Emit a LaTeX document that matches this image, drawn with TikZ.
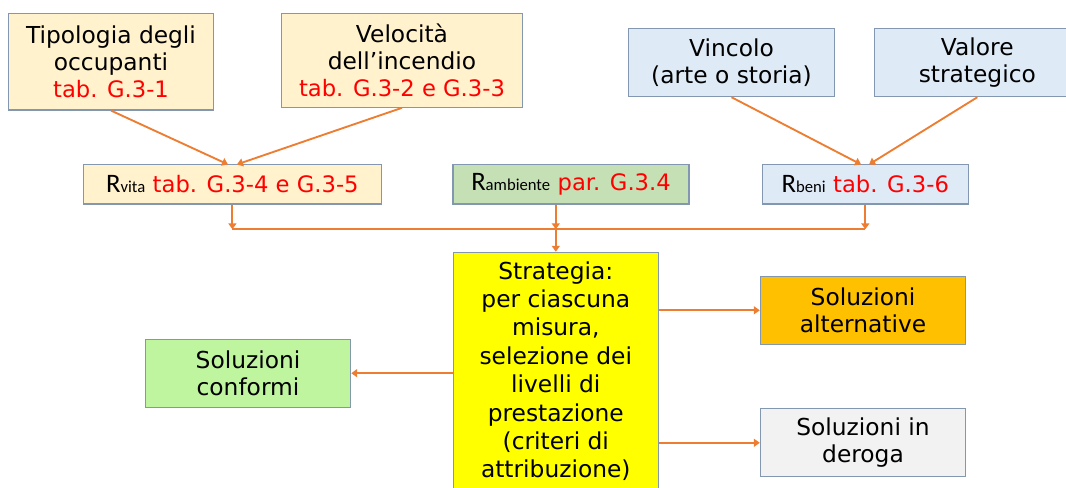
\documentclass[tikz,border=0pt]{standalone}
\usepackage{fontspec}
\setmainfont{DejaVu Sans}
\newfontfamily\calib{Carlito}
\usetikzlibrary{arrows.meta}

\definecolor{edge}{RGB}{132,151,176}
\definecolor{arrow}{RGB}{237,125,49}
\definecolor{tabred}{RGB}{255,0,0}
\definecolor{cream}{RGB}{255,242,204}
\definecolor{sage}{RGB}{197,224,180}
\definecolor{sky}{RGB}{222,235,247}
\definecolor{lime}{RGB}{192,245,160}
\definecolor{amber}{RGB}{255,192,0}
\definecolor{lemon}{RGB}{255,255,0}
\definecolor{smoke}{RGB}{242,242,242}

% R with a small index, then the red reference
\newcommand{\Rsub}[1]{{\calib\fontsize{20}{20}\selectfont R\fontsize{12.5}{12.5}\selectfont #1}}
\newcommand{\rif}[1]{{\fontsize{17}{20.5}\selectfont\textcolor{tabred}{#1}}}

\begin{document}
\begin{tikzpicture}[x=0.75pt,y=-0.75pt,
  box/.style={draw=edge,line width=0.8pt,align=center,inner sep=0pt,
    font=\fontsize{17.5}{20.5}\selectfont},
  link/.style={draw=arrow,line width=1.4pt},
  arr/.style={link,-{Triangle[width=6pt,length=4.5pt]}}]
   \useasboundingbox (0,0) rectangle (1066,488);

   % top row
   \node[box,fill=cream,minimum width=153.8pt,minimum height=72.5pt] (tip) at (111,61.7)
     {Tipologia degli\\occupanti\\\rif{tab. G.3-1}};
   \node[box,fill=cream,minimum width=180.8pt,minimum height=70.5pt] (vel) at (402,60.3)
     {Velocità\\dell’incendio\\\rif{tab. G.3-2 e G.3-3}};
   \node[box,fill=sky,minimum width=155pt,minimum height=51.3pt] (vin) at (731.5,62.5)
     {Vincolo\\(arte o storia)};
   \node[box,fill=sky,minimum width=154.5pt,minimum height=51.3pt] (val) at (977.3,62.5)
     {Valore\\strategico};

   % R row
   \node[box,fill=cream,minimum width=223.5pt,minimum height=29.3pt] (rvita) at (232.4,184.5)
     {\Rsub{vita} \rif{tab. G.3-4 e G.3-5}};
   \node[box,fill=sage,minimum width=177pt,minimum height=29.3pt] (ramb) at (571,184.5)
     {\Rsub{ambiente} \rif{par. G.3.4}};
   \node[box,fill=sky,minimum width=154.5pt,minimum height=29.3pt] (rbeni) at (865.3,184.5)
     {\Rsub{beni} \rif{tab. G.3-6}};

   % strategy and solutions
   \node[box,fill=lemon,minimum width=153.8pt,minimum height=178.3pt,
     font=\fontsize{17.5}{21.3}\selectfont] (strat) at (555.8,371.2)
     {Strategia:\\per ciascuna\\misura,\\selezione dei\\livelli di\\prestazione\\(criteri di\\attribuzione)};
   \node[box,fill=lime,minimum width=154pt,minimum height=51pt] (conf) at (248,373.2)
     {Soluzioni\\conformi};
   \node[box,fill=amber,minimum width=154pt,minimum height=51pt] (alt) at (863,310.3)
     {Soluzioni\\alternative};
   \node[box,fill=smoke,minimum width=154pt,minimum height=51pt] (der) at (863,442.8)
     {Soluzioni in\\deroga};

   \coordinate (busL) at (232.4,229.3);
   \coordinate (busM) at (555.8,229.3);
   \coordinate (busR) at (865.3,229.3);

   \draw[arr] (tip.south) -- ([xshift=-3.3pt]rvita.north);
   \draw[arr] (vel.south) -- ([xshift=3.4pt]rvita.north);
   \draw[arr] (vin.south) -- ([xshift=-3.2pt]rbeni.north);
   \draw[arr] (val.south) -- ([xshift=2.8pt]rbeni.north);

   \draw[arr] (rvita.south) -- (busL);
   \draw[arr] (busM |- ramb.south) -- (busM);
   \draw[arr] (rbeni.south) -- (busR);
   \draw[link] (busL) -- (busR);
   \draw[arr] (busM) -- (strat.north);

   \draw[arr] (strat.west |- conf) -- (conf.east);
   \draw[arr] (strat.east |- alt) -- (alt.west);
   \draw[arr] (strat.east |- der) -- (der.west);
  \end{tikzpicture}
\end{document}
